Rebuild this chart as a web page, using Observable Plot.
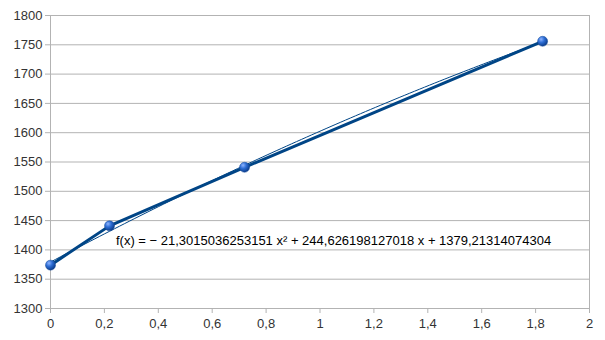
<!DOCTYPE html>
<html><head><meta charset="utf-8">
<script src="https://cdn.jsdelivr.net/npm/d3@7"></script>
<script src="https://cdn.jsdelivr.net/npm/@observablehq/plot@0.6"></script>
<style>body{margin:0;background:#fff;} svg{font-family:"Liberation Sans",Arial,sans-serif;}</style>
</head><body><div id="chart"></div>
<script>
const xs = [0, 0.219, 0.72, 1.826];
const ys = [1374, 1441, 1541, 1756];
const coef = [-21.3015036253151, 244.626198127018, 1379.21314074304]; // a x² + b x + c
const eqLabel = "f(x) = − 21,3015036253151 x² + 244,626198127018 x + 1379,21314074304";
const xTicks = [0,0.2,0.4,0.6,0.8,1,1.2,1.4,1.6,1.8,2];
const yTicks = [1300,1350,1400,1450,1500,1550,1600,1650,1700,1750,1800];

const pts = xs.map((x,i)=>({x, y: ys[i]}));
const xmax = xs[xs.length-1];
const trend = d3.range(0, 101).map(i => { const x = xmax*i/100; return {x, y: coef[0]*x*x + coef[1]*x + coef[2]}; });
const fmt = v => String(v).replace(".", ",");

const plot = Plot.plot({
  width: 605, height: 340,
  marginLeft: 50, marginRight: 16, marginTop: 15, marginBottom: 32,
  style: {fontSize: "13px", color: "#333", fontFamily: "Liberation Sans, Arial, sans-serif"},
  x: {domain: [0, 2]},
  y: {domain: [1300, 1800]},
  marks: [
    Plot.ruleY(yTicks, {stroke: "#b3b3b3"}),
    Plot.ruleX([0, 2], {stroke: "#b3b3b3"}),
    Plot.axisY({ticks: yTicks, tickSize: 5, tickPadding: 3, tickFormat: d => String(d), stroke: "#b3b3b3", label: null, fill: "#333", fontSize: 13}),
    Plot.axisX({ticks: xTicks, tickSize: 5, tickPadding: 5, tickFormat: fmt, stroke: "#b3b3b3", label: null, fill: "#333", fontSize: 13}),
    Plot.line(trend, {x: "x", y: "y", stroke: "#004586", strokeWidth: 1}),
    Plot.line(pts, {x: "x", y: "y", stroke: "#004586", strokeWidth: 3}),
    Plot.dot(pts, {x: "x", y: "y", r: 5, fill: "url(#sph)", stroke: "#1a4f9a", strokeWidth: 0.5}),
    Plot.text([eqLabel], {x: 0.243, y: 1416, text: d => d, textAnchor: "start", fill: "#000", fontSize: 13})
  ]
});
const defs = d3.select(plot).insert("defs", ":first-child");
const g = defs.append("radialGradient").attr("id","sph").attr("cx","35%").attr("cy","30%").attr("r","70%");
g.append("stop").attr("offset","0%").attr("stop-color","#8fb4ff");
g.append("stop").attr("offset","45%").attr("stop-color","#2f6fd6");
g.append("stop").attr("offset","100%").attr("stop-color","#0b3c8c");
document.getElementById("chart").appendChild(plot);
</script></body></html>
